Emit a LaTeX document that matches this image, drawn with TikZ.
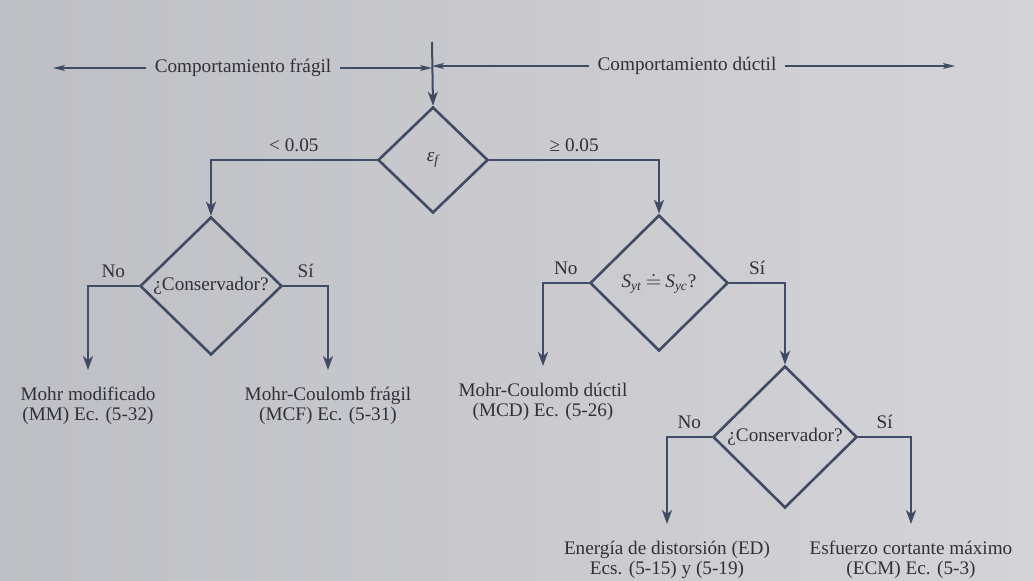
\documentclass[tikz,border=0pt]{standalone}
\usepackage{fontspec}
\setmainfont{Liberation Serif}
\usetikzlibrary{shapes.geometric,arrows.meta}

\definecolor{paperl}{RGB}{190,191,196}
\definecolor{paperr}{RGB}{212,212,216}
\definecolor{ink}{RGB}{64,75,100}
\definecolor{txt}{RGB}{48,48,56}

\tikzset{
  decision/.style={diamond, draw=ink, line width=1.3pt, inner sep=0pt, text=txt,
    font=\fontsize{9.6}{10}\selectfont},
  result/.style={anchor=north, align=center, inner xsep=0pt, inner ysep=8.5pt, text=txt,
    font=\fontsize{9.6}{9.8}\selectfont},
  lbl/.style={text=txt, inner sep=0pt, font=\fontsize{9.6}{10}\selectfont},
  flow/.style={draw=ink, line width=1.3pt, -{Stealth[length=7pt,width=5pt,inset=2pt]}},
  rangearrow/.style={draw=ink, line width=0.65pt, -{Stealth[length=6pt,width=3pt,inset=1.5pt]}}
}

\begin{document}
\begin{tikzpicture}[x=0.5pt,y=-0.5pt]
\useasboundingbox (0,0) rectangle (1033,580);
\shade[left color=paperl, right color=paperr] (0,0) rectangle (1033,580);

% brittle / ductile range
\coordinate (start) at (432,42);
\coordinate (fragilend) at (53,68);
\coordinate (ductilend) at (955,66);
\node[lbl, inner xsep=4pt] (fragil) at (243,68) {Comportamiento frágil};
\node[lbl, inner xsep=4pt] (ductil) at (687,66) {Comportamiento dúctil};
\draw[rangearrow] (fragil.west) -- (fragilend);
\draw[rangearrow] (fragil.east) -- (fragil.east -| start);
\draw[rangearrow] (ductil.west) -- (ductil.west -| start);
\draw[rangearrow] (ductil.east) -- (ductilend);

% decisions
\node[decision, minimum width=55pt, minimum height=53pt] (ef) at (433,160)
  {\itshape ε\textsubscript{f}};
\node[decision, minimum width=71pt, minimum height=69pt] (cons1) at (211,286) {¿Conservador?};
\node[decision, minimum width=69pt, minimum height=68pt] (syt) at (659,283)
  {\itshape S\textsubscript{yt}\kern2pt$\doteq$\kern2pt S\textsubscript{yc}\upshape ?};
\node[decision, minimum width=72pt, minimum height=71pt] (cons2) at (785,437) {¿Conservador?};

% criteria
\node[result] (mm) at (88,370) {Mohr modificado\\(MM) Ec. (5-32)};
\node[result] (mcf) at (328,370) {Mohr-Coulomb frágil\\(MCF) Ec. (5-31)};
\node[result] (mcd) at (543,366) {Mohr-Coulomb dúctil\\(MCD) Ec. (5-26)};
\node[result] (ed) at (667,524) {Energía de distorsión (ED)\\Ecs. (5-15) y (5-19)};
\node[result] (ecm) at (911,524) {Esfuerzo cortante máximo\\(ECM) Ec. (5-3)};

\draw[flow, line width=1pt] (start) -- (ef.north);
\draw[flow] (ef.west) -| (cons1.north) node[lbl, pos=0.25, above=3.5pt] {< 0.05};
\draw[flow] (ef.east) -| (syt.north) node[lbl, pos=0.25, above=3.5pt] {≥ 0.05};
\draw[flow] (cons1.west) -| (mm.north) node[lbl, pos=0.25, above=3.5pt] {No};
\draw[flow] (cons1.east) -| (mcf.north) node[lbl, pos=0.25, above=3.5pt] {Sí};
\draw[flow] (syt.west) -| (mcd.north) node[lbl, pos=0.25, above=3.5pt] {No};
\draw[flow] (syt.east) -| (cons2.north) node[lbl, pos=0.25, above=3.5pt] {Sí};
\draw[flow] (cons2.west) -| (ed.north) node[lbl, pos=0.25, above=3.5pt] {No};
\draw[flow] (cons2.east) -| (ecm.north) node[lbl, pos=0.25, above=3.5pt] {Sí};
\end{tikzpicture}
\end{document}
